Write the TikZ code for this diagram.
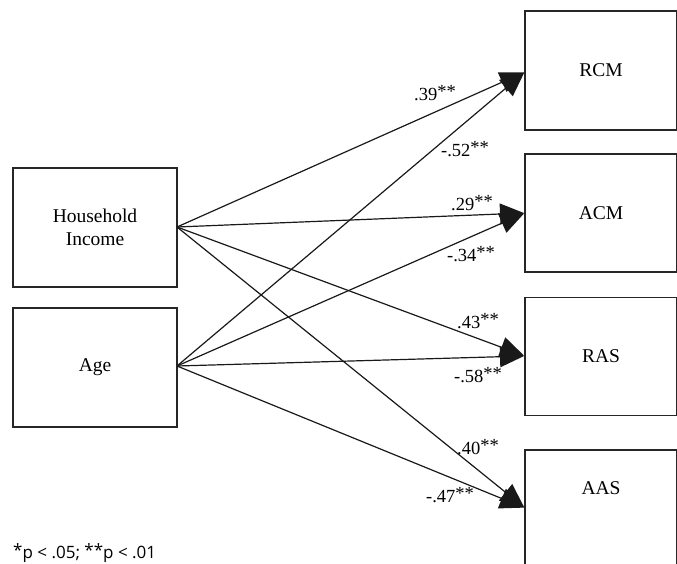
\documentclass[tikz,border=0pt]{standalone}
\usepackage{fontspec}
\setmainfont{Liberation Serif}
\newfontfamily\notefont{Open Sans}
\usetikzlibrary{arrows.meta}
\newcommand{\sig}{\raisebox{2.5pt}{**}}
\begin{document}
\begin{tikzpicture}[x=1pt,y=-1pt,
  box/.style={draw=black!85, line width=1.5pt, rectangle, inner sep=0pt,
    font=\fontsize{19.5}{23}\selectfont, align=center},
  path/.style={draw=black!90, line width=1.2pt,
    -{Triangle[length=24pt,width=21pt]}, shorten >=1pt},
  coef/.style={font=\fontsize{18.5}{20}\selectfont, inner sep=0pt}]
\useasboundingbox (0,0) rectangle (677,564);

% predictors
\node[box, minimum width=164pt, minimum height=119pt] (hi) at (95,227.5) {Household\\Income};
\node[box, minimum width=164pt, minimum height=119pt] (age) at (95,367.5) {Age};

% outcomes
\node[box, minimum width=152pt, minimum height=119pt] (rcm) at (601,70.5) {RCM};
\node[box, minimum width=152pt, minimum height=118pt] (acm) at (601,213) {ACM};
\node[box, minimum width=152pt, minimum height=118pt] (ras) at (601,356.5) {RAS};
\node[box, minimum width=152pt, minimum height=140pt, anchor=north] (aas) at (601,449) {};
\node[font=\fontsize{19.5}{23}\selectfont] (aaslabel) at (601,488) {AAS};

\coordinate (hiout) at (177,227);
\coordinate (ageout) at (177,366);
\coordinate (rcmin) at (525,72);
\coordinate (acmin) at (525,213);
\coordinate (rasin) at (525,356);
\coordinate (aasin) at (525,508);

% paths
\draw[path] (hiout) -- (rcmin);
\draw[path] (ageout) -- (rcmin);
\draw[path] (hiout) -- (acmin);
\draw[path] (ageout) -- (acmin);
\draw[path] (hiout) -- (rasin);
\draw[path] (ageout) -- (rasin);
\draw[path] (hiout) -- (aasin);
\draw[path] (ageout) -- (aasin);

% coefficients
\node[coef] (c1) at (435,93) {.39\sig};
\node[coef] (c2) at (465,149) {-.52\sig};
\node[coef] (c3) at (472,203) {.29\sig};
\node[coef] (c4) at (471,254) {-.34\sig};
\node[coef] (c5) at (478,321) {.43\sig};
\node[coef] (c6) at (478,375) {-.58\sig};
\node[coef] (c7) at (478,447) {.40\sig};
\node[coef] (c8) at (450,495) {-.47\sig};

% significance note
\node[anchor=west, inner sep=0pt, font=\notefont\fontsize{17}{20}\selectfont] (note) at (13,553) {\raisebox{2pt}{*}p < .05; \raisebox{2pt}{**}p < .01};
\end{tikzpicture}
\end{document}
